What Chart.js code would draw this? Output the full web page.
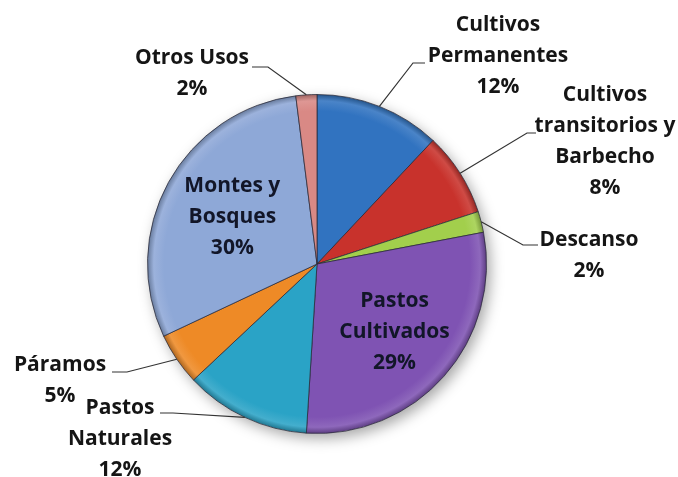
<!DOCTYPE html>
<html>
<head>
<meta charset="utf-8">
<script src="https://cdn.jsdelivr.net/npm/chart.js@4"></script>
<style>
  html, body { margin: 0; padding: 0; background: #fff; }
  canvas { display: block; }
</style>
</head>
<body>
<canvas id="chartPie" width="678" height="477"></canvas>
<script>
const categories = [
    "Cultivos Permanentes",
    "Cultivos transitorios y Barbecho",
    "Descanso",
    "Pastos Cultivados",
    "Pastos Naturales",
    "Páramos",
    "Montes y Bosques",
    "Otros Usos",
];
const percentages = [12, 8, 2, 29, 12, 5, 30, 2];
const labelLines = [
    ["Cultivos", "Permanentes"],
    ["Cultivos", "transitorios y", "Barbecho"],
    ["Descanso"],
    ["Pastos", "Cultivados"],
    ["Pastos", "Naturales"],
    ["Páramos"],
    ["Montes y", "Bosques"],
    ["Otros Usos"],
];
const sliceColors = ["#3173c0", "#c8322c", "#a2cf4c", "#7f53b3", "#2aa3c6", "#ee8a26", "#8ea8d7", "#d98985"];

// where each label goes (outside ones get a leader line: elbow + short tick)
const labelLayout = [
    { x: 498, y: 25, elbow: [413, 63], tick: 425 },
    { x: 605, y: 95, elbow: [527, 133], tick: 536 },
    { x: 589, y: 240, elbow: [523, 245], tick: 538 },
    { inside: 0.61 },
    { x: 120, y: 408, elbow: [173, 413], tick: 160 },
    { x: 60, y: 365, elbow: [127, 372], tick: 112 },
    { inside: 0.57 },
    { x: 192, y: 58, elbow: [268, 67], tick: 252 },
];

function mix(hex, target, t) {
    const n = parseInt(hex.slice(1), 16);
    const c = [(n >> 16) & 255, (n >> 8) & 255, n & 255];
    const r = c.map((v) => Math.round(v + (target - v) * t));
    return "rgb(" + r.join(",") + ")";
}

function sliceFill(context) {
    const chart = context.chart;
    const base = sliceColors[context.dataIndex];
    const area = chart.chartArea;
    if (!area) return base;
    const cx = (area.left + area.right) / 2;
    const cy = (area.top + area.bottom) / 2;
    const r = Math.min(area.right - area.left, area.bottom - area.top) / 2;
    const g = chart.ctx.createRadialGradient(cx, cy, 0, cx, cy, r);
    g.addColorStop(0, base);
    g.addColorStop(0.9, base);
    g.addColorStop(0.96, mix(base, 255, 0.12));
    g.addColorStop(1, mix(base, 0, 0.3));
    return g;
}

// soft drop shadow under the pie
const pieShadow = {
    id: "pieShadow",
    beforeDatasetsDraw(chart) {
        const arc = chart.getDatasetMeta(0).data[0];
        if (!arc) return;
        const ctx = chart.ctx;
        ctx.save();
        ctx.shadowColor = "rgba(0,0,0,0.35)";
        ctx.shadowBlur = 14;
        ctx.shadowOffsetX = 4;
        ctx.shadowOffsetY = 5;
        ctx.fillStyle = "#fff";
        ctx.beginPath();
        ctx.arc(arc.x, arc.y, arc.outerRadius, 0, Math.PI * 2);
        ctx.fill();
        ctx.restore();
    },
};

const pieLabels = {
    id: "pieLabels",
    afterDatasetsDraw(chart) {
        const ctx = chart.ctx;
        const arcs = chart.getDatasetMeta(0).data;
        const values = chart.data.datasets[0].data;
        ctx.save();
        ctx.font = 'bold 21px "Open Sans"';
        ctx.textAlign = "center";
        ctx.textBaseline = "middle";
        arcs.forEach((arc, i) => {
            const lay = labelLayout[i];
            const mid = (arc.startAngle + arc.endAngle) / 2;
            const lines = labelLines[i].concat([values[i] + "%"]);
            let x, y;
            if (lay.inside) {
                const rr = arc.outerRadius * lay.inside;
                x = arc.x + Math.cos(mid) * rr;
                y = arc.y + Math.sin(mid) * rr - ((lines.length - 1) * 31) / 2;
                ctx.fillStyle = "#121628";
            } else {
                x = lay.x;
                y = lay.y;
                const ex = arc.x + Math.cos(mid) * arc.outerRadius;
                const ey = arc.y + Math.sin(mid) * arc.outerRadius;
                ctx.strokeStyle = "#333";
                ctx.lineWidth = 1.2;
                ctx.beginPath();
                ctx.moveTo(ex, ey);
                ctx.lineTo(lay.elbow[0], lay.elbow[1]);
                ctx.lineTo(lay.tick, lay.elbow[1]);
                ctx.stroke();
                ctx.fillStyle = "#151515";
            }
            lines.forEach((t, k) => ctx.fillText(t, x, y + k * 31));
        });
        ctx.restore();
    },
};

const configPie = {
    type: "pie",
    data: {
        labels: categories,
        datasets: [
            {
                data: percentages,
                backgroundColor: sliceFill,
                borderColor: "rgba(40,40,55,0.75)",
                borderWidth: 1,
            },
        ],
    },
    options: {
        responsive: false,
        animation: false,
        layout: { padding: { left: 147, right: 191, top: 94, bottom: 43 } },
        plugins: {
            legend: { display: false },
            tooltip: { enabled: false },
        },
    },
    plugins: [pieShadow, pieLabels],
};

let chartPie = new Chart(document.getElementById("chartPie"), configPie);
</script>
</body>
</html>
